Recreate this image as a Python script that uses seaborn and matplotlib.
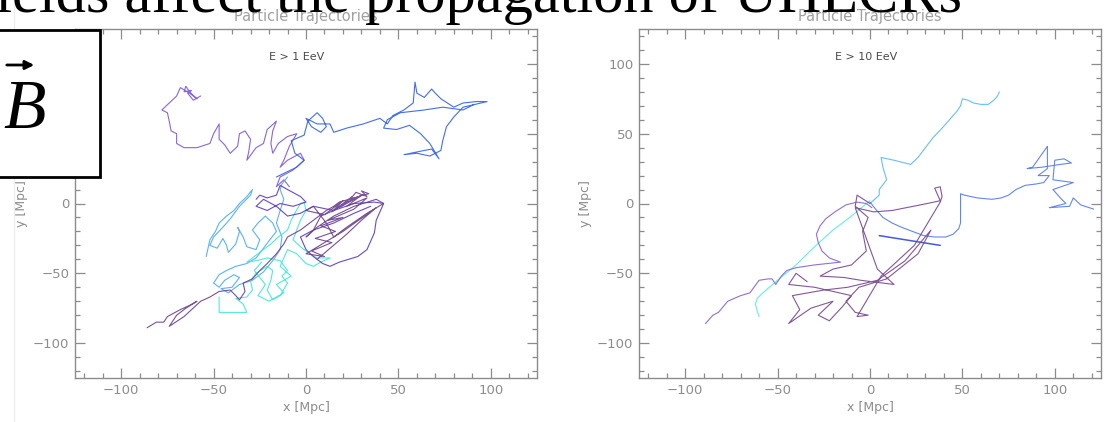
import matplotlib
matplotlib.use("Agg")
import matplotlib.pyplot as plt
import seaborn as sns
from matplotlib.patches import Rectangle, FancyArrowPatch
from matplotlib.lines import Line2D

# ---------------- trajectory data (Mpc) ----------------
# E > 1 EeV
lv_x = [-57, -61, -64, -62, -66, -65, -63, -59, -63, -68, -70, -74, -78, -75, -74, -73, -70, -70, -66, -59,
        -52, -50, -47, -47, -44, -41, -37, -36, -33, -30, -31, -32, -27, -23, -21, -16, -18, -19, -18, -15,
        -10, -5, -9, -12, -14, -10, -3, -1, -7, -14, -16, -12, -9]
lv_y = [77, 74, 79, 81, 80, 84, 80, 75, 79, 83, 77, 72, 67, 65, 59, 52, 50, 43, 40, 40,
        43, 50, 57, 46, 42, 36, 41, 50, 52, 46, 37, 31, 40, 43, 53, 59, 52, 43, 36, 43,
        48, 50, 41, 31, 26, 31, 36, 31, 24, 19, 12, 17, 12]

lb_x = [-16, -5, -1, -6, -8, -1, 1, 6, 9, 11, 8, 3, 0, 6, 13, 15, 22, 31, 40, 44, 47, 53, 58, 59, 60, 64, 68,
        70, 73, 80, 85, 92, 98, 85, 80, 76, 74, 73, 67, 60, 53, 64, 68, 72, 67, 62, 56, 49, 42, 44, 51, 64,
        74, 85, 91]
lb_y = [19, 26, 31, 36, 45, 49, 59, 65, 61, 55, 51, 55, 61, 57, 57, 51, 54, 57, 61, 57, 63, 67, 72, 87, 79,
        76, 82, 79, 75, 69, 72, 73, 73, 69, 62, 55, 45, 38, 34, 36, 35, 38, 39, 32, 43, 50, 56, 53, 54, 60,
        65, 67, 69, 67, 71]

lp_x = [-86, -81, -77, -75, -68, -63, -59, -65, -70, -74, -66, -57, -52, -47, -41, -38, -36, -33, -34, -29,
        -25, -21, -16, -12, -10, -3, 4, 11, 15, 18, 26, 31, 34, 30, 33, 27, 24, 29, 22, 15, 8, 4, 0, 6, 15,
        26, 38, 42, 33, 22, 15, 11, 4, 0, 10, 20, 14, 25, 18, 30, 22, 33, 26, 12, 20, 8, 16, 5, 14, 3, 10, 0,
        20, 38, 30, 22, 6]
lp_y = [-89, -85, -85, -81, -76, -73, -70, -75, -80, -88, -81, -70, -67, -63, -62, -66, -69, -63, -57, -54,
        -48, -43, -36, -29, -24, -19, -12, -5, -2, 1, 4, 6, 7, 9, 5, 8, 3, 5, 1, -5, -9, -19, -24, -17, -9,
        -2, 3, 0, -7, -17, -24, -14, -2, -5, -8, 2, -6, 5, -3, 6, -2, 4, -4, -12, -10, -16, -20, -25, -28,
        -34, -38, -36, -20, -3, -12, -22, -40]

lvl_x = [-27, -25, -21, -16, -14, -10, -3, 0, -7, -14, -21, -27, -23, -16, -10, -3, 4, 15, 26, 37, 42, 38,
         37, 33, 28, 18, 13, 9, 4, 0, -3, 4, 15, 26, 35]
lvl_y = [3, 6, 4, 6, 13, 10, 5, 1, -2, 0, -5, -2, 3, -2, -9, -7, -2, -5, 0, 1, 0, -12, -21, -33, -38, -42,
         -45, -43, -38, -33, -24, -19, -14, -7, -2]

llb_x = [-54, -52, -49, -47, -43, -39, -36, -32, -29, -30, -36, -41, -45, -50, -52, -48, -45, -43, -42, -38,
         -36, -37, -34, -32, -27, -25, -29, -26, -22, -18, -16, -19, -23, -27, -32, -38, -43, -47, -50, -47,
         -44, -39, -36, -40, -46, -42, -36, -29, -23, -18, -14, -13, -16, -14, -12, -14, -13, -10]
llb_y = [-38, -26, -20, -14, -9, -5, 0, 5, 10, 6, -2, -11, -17, -24, -30, -32, -25, -30, -35, -29,
         -20, -17, -24, -31, -33, -26, -19, -14, -9, -14, -20, -25, -32, -39, -43, -45, -48, -51, -57, -60,
         -55, -51, -53, -60, -61, -64, -58, -55, -49, -41, -33, -24, -14, -5, 3, 10, 14, 19]

lc_x = [-47, -47, -47, -39, -32, -34, -38, -32, -29, -30, -27, -21, -18, -19, -21, -18, -14, -10, -13, -10,
        -14, -21, -27, -32, -25, -19, -15, -10, -8, -6, -3, -1, 0, -3, -5, -7, -3, 2, 6, 13, 8, 4, 0, -5, -10,
        -14, -8, -16, -12, -20, -26, -22, -28, -24]
lc_y = [-67, -72, -78, -78, -78, -72, -68, -67, -62, -55, -50, -45, -48, -55, -62, -69, -66, -57, -52, -48,
        -41, -39, -41, -42, -35, -29, -24, -19, -12, -7, 0, 1, -5, -12, -19, -26, -31, -36, -39, -39, -42,
        -45, -43, -36, -33, -45, -52, -58, -64, -70, -66, -58, -48, -42]

# E > 10 EeV
rv_x = [-89, -85, -82, -77, -70, -65, -60, -55, -53, -51, -48, -45, -40, -30, -16, -22, -26, -28, -29, -27,
        -24, -19, -13, -7, -2, 1]
rv_y = [-86, -80, -78, -70, -66, -64, -55, -54, -54, -58, -52, -48, -46, -44, -42, -39, -34, -28, -22, -16,
        -11, -6, -1, 1, 0, -3]

rp_x = [0, -7, -8, -1, -4, -2, -10, -20, -27, -14, -5, 13, 4, -8, 2, 12, 31, 38, 35, 38, 39, 38, 24, 6, -7,
        -1, -8, -13, -6, 9, 26, 33, 19, 4, -12, -25, -42, -38, -44, -32, -20, -28, -22, -15, -10, -30, -44,
        -40, -34]
rp_y = [0, 6, -2, -10, -20, -34, -44, -47, -52, -53, -55, -58, -47, -3, -6, -5, 0, 2, 11, 12, 5, 1, -30,
        -52, -81, -80, -78, -70, -60, -54, -36, -19, -41, -55, -60, -62, -66, -76, -86, -75, -70, -80, -84,
        -74, -66, -60, -58, -50, -56]

rlb_x = [0, 5, 5, 9, 7, 6, 13, 22, 26, 30, 34, 39, 43, 47, 49, 50, 53, 56, 60, 64, 67, 69, 70]
rlb_y = [0, 6, 10, 17, 26, 33, 31, 28, 33, 40, 47, 54, 60, 66, 70, 75, 74, 72, 71, 71, 74, 77, 80]

rc_x = [0, -10, -20, -30, -40, -50, -58, -61, -62, -61, -60]
rc_y = [2, -9, -19, -31, -44, -55, -64, -68, -72, -77, -81]

rb_x = [0, 3, 7, 12, 17, 23, 29, 35, 41, 45, 48, 49, 49, 49, 51, 58, 66, 71, 75, 79, 84, 90, 94, 97, 91, 96,
        96, 88, 85, 93, 103, 109, 105, 100, 99, 110, 99, 103, 106, 97, 108, 110, 114, 121]
rb_y = [1, -4, -10, -14, -17, -20, -23, -24, -24, -22, -18, -14, -5, 7, 6, 4, 3, 4, 6, 10, 13, 14, 15, 20, 20,
        25, 41, 26, 25, 26, 28, 29, 32, 31, 17, 15, 10, 4, 0, -3, -2, 4, -1, -4]

rdb_x = [5, 38]
rdb_y = [-23, -30]

panel_labels = ["E > 1 EeV", "E > 10 EeV"]
major_ticks = [-100, -50, 0, 50, 100]
minor_ticks = list(range(-120, 121, 10))

# ---------------- figure ----------------
sns.set_style("white")
plt.rcParams['font.family'] = ['DejaVu Sans']

W, H = 1106, 422
fig = plt.figure(figsize=(W / 100, H / 100), dpi=100)
fig.patch.set_facecolor("white")

ax1 = fig.add_axes([75 / W, 44 / H, 462 / W, 349 / H])
ax2 = fig.add_axes([639 / W, 44 / H, 462 / W, 349 / H])

GRAY = "#8c8c8c"


def style_axes(ax, label, label_x):
    ax.set_xlim(-125, 125)
    ax.set_ylim(-125, 125)
    ax.set_xticks(major_ticks)
    ax.set_yticks(major_ticks)
    ax.set_xticks(minor_ticks, minor=True)
    ax.set_yticks(minor_ticks, minor=True)
    ax.tick_params(which="both", direction="in", top=True, right=True, bottom=True, left=True,
                   color=GRAY, labelcolor=GRAY, labelsize=9.5, pad=4)
    ax.tick_params(which="major", length=7, width=0.9)
    ax.tick_params(which="minor", length=3.5, width=0.9)
    for s in ax.spines.values():
        s.set_color(GRAY)
        s.set_linewidth(1.0)
        s.set_visible(True)
    ax.set_title("Particle Trajectories", color="#a0a0a0", fontsize=10.5, pad=6)
    ax.set_xlabel("x [Mpc]", color=GRAY, fontsize=9, labelpad=3)
    ax.set_ylabel("y [Mpc]", color=GRAY, fontsize=9, labelpad=4)
    ax.text(label_x, 105, label, ha="center", va="center", fontsize=8, color="#4a4a4a")
    ax.grid(False)


def track(ax, xs, ys, color, lw=0.8, alpha=0.9):
    sns.lineplot(x=xs, y=ys, sort=False, estimator=None, color=color, linewidth=lw,
                 alpha=alpha, ax=ax)


# left panel tracks
track(ax1, lv_x, lv_y, "#7c55d9")
track(ax1, lb_x, lb_y, "#2f5ef2")
track(ax1, llb_x, llb_y, "#4aaaf5")
track(ax1, lc_x, lc_y, "#3fe8d5")
track(ax1, lvl_x, lvl_y, "#5a36c8")
track(ax1, lp_x, lp_y, "#6b3f8c")

# right panel tracks
track(ax2, rlb_x, rlb_y, "#55b8f7")
track(ax2, rc_x, rc_y, "#4ff0dc")
track(ax2, rb_x, rb_y, "#5577f0")
track(ax2, rdb_x, rdb_y, "#3347d6", lw=1.1)
track(ax2, rv_x, rv_y, "#8460d6")
track(ax2, rp_x, rp_y, "#74468f")

style_axes(ax1, panel_labels[0], -5)
style_axes(ax2, panel_labels[1], -2)

# slide decorations
fig.add_artist(Line2D([14 / W, 14 / W], [0, 1], color="#ededed", lw=1, zorder=1))

fig.text(962 / W, 1 - 12 / H, "Magnetic fields affect the propagation of UHECRs",
         fontfamily="Liberation Serif", fontsize=43.5, ha="right", va="baseline",
         color="black", zorder=10)

fig.add_artist(Rectangle((-5 / W, 1 - 177 / H), 105 / W, 147 / H, transform=fig.transFigure,
                         facecolor="white", edgecolor="black", lw=2.0, zorder=5))
fig.text(3 / W, 1 - 128 / H, "B", fontfamily="Liberation Serif", style="italic", fontsize=50,
         ha="left", va="baseline", color="black", zorder=6)
fig.add_artist(FancyArrowPatch((4 / W, 1 - 65 / H), (37 / W, 1 - 65 / H), transform=fig.transFigure,
                               arrowstyle="-|>", mutation_scale=13, lw=2.0, color="black", zorder=6))

fig.savefig("out.png", dpi=100, facecolor="white")
